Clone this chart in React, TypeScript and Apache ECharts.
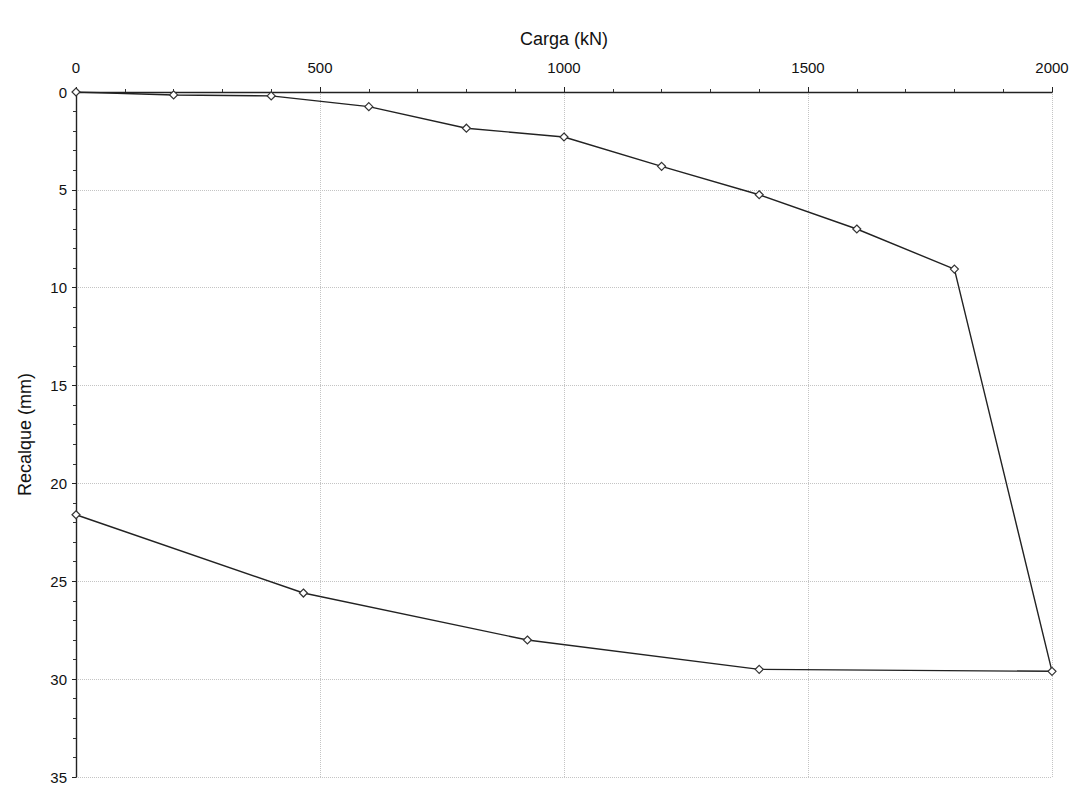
import React, { useEffect, useRef } from "react";
import * as echarts from "echarts";

// Prova de carga: carregamento e descarregamento
const cargaKN = [0, 200, 400, 600, 800, 1000, 1200, 1400, 1600, 1800, 2000, 1400, 925, 466, 0];
const recalqueMm = [0, 0.15, 0.2, 0.75, 1.85, 2.3, 3.8, 5.25, 7.0, 9.05, 29.6, 29.5, 28.0, 25.6, 21.6];

const xTicks = [0, 500, 1000, 1500, 2000];
const yTicks = [0, 5, 10, 15, 20, 25, 30, 35];

const FONT = "'Liberation Sans', Arial, sans-serif";

export default function App() {
  const ref = useRef<HTMLDivElement>(null);

  useEffect(() => {
    if (!ref.current) return;
    const chart = echarts.init(ref.current, null, { renderer: "svg" });
    const points = cargaKN.map((x, i) => [x, recalqueMm[i]]);

    chart.setOption({
      animation: false,
      backgroundColor: "#ffffff",
      grid: { left: 76, right: 20, top: 92, bottom: 11, containLabel: false },
      xAxis: {
        type: "value",
        position: "top",
        min: xTicks[0],
        max: xTicks[xTicks.length - 1],
        interval: 500,
        name: "Carga (kN)",
        nameLocation: "middle",
        nameGap: 44,
        nameTextStyle: { fontFamily: FONT, fontSize: 18, color: "#111" },
        axisLine: { show: true, lineStyle: { color: "#222", width: 1.4 } },
        axisTick: { show: true, inside: false, length: 5, lineStyle: { color: "#222" } },
        minorTick: { show: true, splitNumber: 5, length: 3, lineStyle: { color: "#333" } },
        axisLabel: {
          fontFamily: FONT,
          fontSize: 15,
          color: "#111",
          margin: 17,
          formatter: (v: number) => String(v),
        },
        splitLine: { show: true, lineStyle: { type: "dotted", color: "#c4c4c4", width: 1 } },
      },
      yAxis: {
        type: "value",
        inverse: true,
        min: yTicks[0],
        max: yTicks[yTicks.length - 1],
        interval: 5,
        name: "Recalque (mm)",
        nameLocation: "middle",
        nameGap: 42,
        nameRotate: 90,
        nameTextStyle: { fontFamily: FONT, fontSize: 18, color: "#111" },
        axisLine: { show: true, lineStyle: { color: "#222", width: 1.4 } },
        axisTick: { show: true, inside: false, length: 4, lineStyle: { color: "#222" } },
        minorTick: { show: true, splitNumber: 5, length: 3, lineStyle: { color: "#333" } },
        axisLabel: {
          fontFamily: FONT,
          fontSize: 15,
          color: "#111",
          margin: 9,
          formatter: (v: number) => String(v),
        },
        splitLine: { show: true, lineStyle: { type: "dotted", color: "#c4c4c4", width: 1 } },
      },
      series: [
        {
          type: "line",
          data: points,
          symbol: "diamond",
          symbolSize: 8,
          showAllSymbol: true,
          lineStyle: { color: "#222", width: 1.4 },
          itemStyle: { color: "#ffffff", borderColor: "#333", borderWidth: 1.2 },
        },
      ],
    });

    return () => chart.dispose();
  }, []);

  return (
    <div
      ref={ref}
      style={{ position: "fixed", left: 0, top: 0, width: 1072, height: 788, background: "#fff" }}
    />
  );
}
